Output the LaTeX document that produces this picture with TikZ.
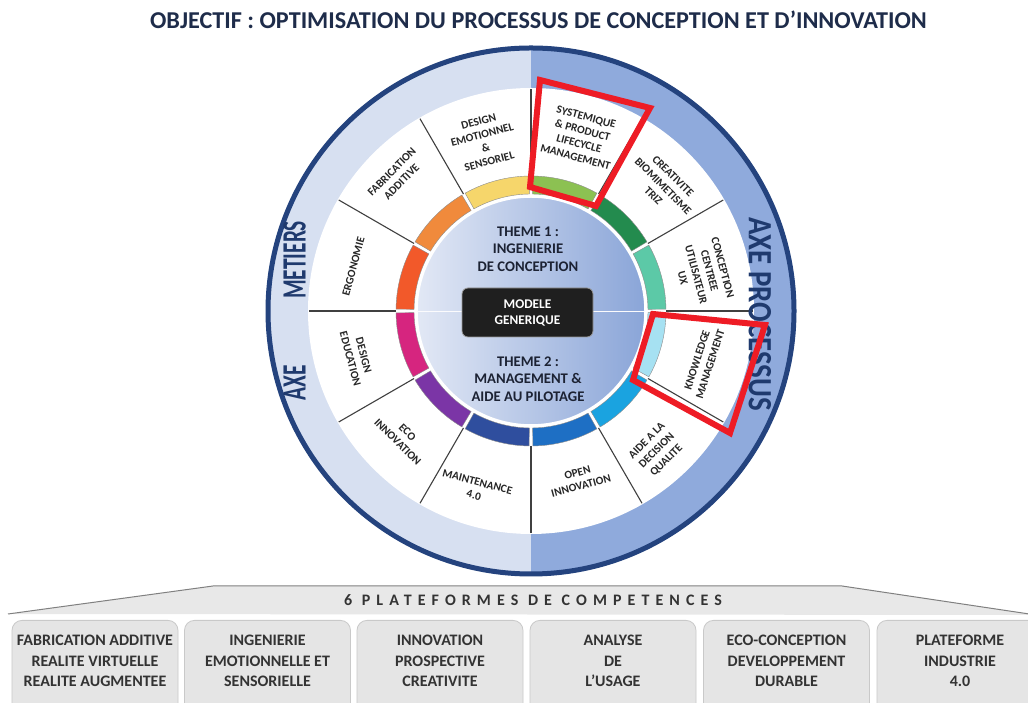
\documentclass[tikz,border=0pt]{standalone}
\usepackage{fontspec}
\setmainfont{Carlito}
\usepackage{graphicx}
\definecolor{bandL}{HTML}{D7E0F1}
\definecolor{bandR}{HTML}{8FAADC}
\definecolor{rim}{HTML}{24437E}
\definecolor{titleblue}{HTML}{1E2C4A}
\definecolor{axeblue}{HTML}{1F3A6E}
\definecolor{redbox}{HTML}{EE1C25}
\definecolor{boxgray}{HTML}{E5E5E5}
\definecolor{boxedge}{HTML}{C9C9C9}
\definecolor{boxtext}{HTML}{333333}
\definecolor{bannergray}{HTML}{E8E8E8}
\definecolor{diskL}{HTML}{E2E8F5}
\definecolor{diskR}{HTML}{8AA5D8}
\definecolor{ctext}{HTML}{1C2233}
\definecolor{c15}{HTML}{5CC9A7}
\definecolor{c45}{HTML}{238B4E}
\definecolor{c75}{HTML}{8CC152}
\definecolor{c105}{HTML}{F6D66B}
\definecolor{c135}{HTML}{F08A3C}
\definecolor{c165}{HTML}{F2592A}
\definecolor{c195}{HTML}{D6257F}
\definecolor{c225}{HTML}{7B35A6}
\definecolor{c255}{HTML}{2F4E9E}
\definecolor{c285}{HTML}{1E6FC4}
\definecolor{c315}{HTML}{1AA3E0}
\definecolor{c345}{HTML}{A6E1F2}
\begin{document}
\begin{tikzpicture}[x=1pt,y=1pt,
  seg/.style={font=\bfseries\fontsize{11.3}{13.8}\selectfont, align=center, text=black!85, inner sep=0pt},
  ctr/.style={font=\bfseries\fontsize{14.7}{17.5}\selectfont, align=center, text=ctext, inner sep=0pt},
  axe/.style={font=\bfseries\fontsize{34}{36}\selectfont, text=axeblue, inner sep=0pt},
  pbox/.style={draw=boxedge, fill=boxgray, line width=0.8pt, rounded corners=10pt, minimum width=166pt, minimum height=95pt, anchor=north},
  ptext/.style={font=\bfseries\fontsize{16}{20.3}\selectfont, align=center, text=boxtext, inner sep=0pt},
  hilite/.style={draw=redbox, line width=6pt, line join=miter}
]
\useasboundingbox (0,0) rectangle (1028,703);
\fill[white] (0,0) rectangle (1028,703);

% title
\node[font=\bfseries\fontsize{24.2}{28}\selectfont, text=titleblue, inner sep=0pt] (title) at (538.5,683) {OBJECTIF : OPTIMISATION DU PROCESSUS DE CONCEPTION ET D’INNOVATION};

% wheel
\begin{scope}[shift={(531,392)}]
  \fill[bandL] (90:265) arc[start angle=90,end angle=270,radius=265] -- cycle;
  \fill[bandR] (-90:265) arc[start angle=-90,end angle=90,radius=265] -- cycle;
  \draw[rim, line width=5pt] (0,0) circle (263);
  \fill[white] (0,0) circle (223);
  \foreach \a/\c in {15/c15,45/c45,75/c75,105/c105,135/c135,165/c165,195/c195,225/c225,255/c255,285/c285,315/c315,345/c345}{
    \filldraw[fill=\c, draw=black!45, line width=0.4pt]
      ({\a-14.2}:117) arc[start angle={\a-14.2}, end angle={\a+14.2}, radius=117]
      -- ({\a+14.2}:135) arc[start angle={\a+14.2}, end angle={\a-14.2}, radius=135] -- cycle;
  }
  \shadedraw[left color=diskL, right color=diskR, draw=white, line width=1.5pt] (0,0) circle (114);
  \draw[white!85!diskL, line width=0.8pt] (-114,0) -- (114,0);
  \foreach \a in {0,30,...,330}{
    \draw[black!75, line width=1.1pt] (\a:135) -- (\a:222);
  }
  \node[seg, rotate=-15] (sys) at (74:181) {SYSTEMIQUE\\\& PRODUCT\\LIFECYCLE\\MANAGEMENT};
  \node[seg, rotate=15] (demo) at (105.5:176) {DESIGN\\EMOTIONNEL\\\&\\SENSORIEL};
  \node[seg, rotate=45] (fab) at (135:190) {FABRICATION\\ADDITIVE};
  \node[seg, rotate=75] (ergo) at (166:183) {ERGONOMIE};
  \node[seg, rotate=-75] (dedu) at (194.8:180) {DESIGN\\EDUCATION};
  \node[seg, rotate=-45] (eco) at (224.5:180) {ECO\\INNOVATION};
  \node[seg, rotate=-15] (maint) at (252.7:186) {MAINTENANCE\\4.0};
  \node[seg, rotate=15] (open) at (286:175) {OPEN\\INNOVATION};
  \node[seg, rotate=45] (aide) at (312:188) {AIDE A LA\\DECISION\\QUALITE};
  \node[seg, rotate=72] (know) at (343.5:180) {KNOWLEDGE\\MANAGEMENT};
  \node[seg, rotate=-75] (ccu) at (12.5:176) {CONCEPTION\\CENTREE\\UTILISATEUR\\UX};
  \node[seg, rotate=-45] (crea) at (43.4:182) {CREATIVITE\\BIOMIMETISME\\TRIZ};
\end{scope}

% centre
\node[ctr] (t1) at (528,454) {THEME 1 :\\INGENIERIE\\DE CONCEPTION};
\node[rounded corners=6pt, fill=black!88, draw=black!40, line width=0.8pt, minimum width=131pt, minimum height=49pt, align=center, text=white, font=\bfseries\fontsize{13.3}{16}\selectfont, inner sep=0pt] (mg) at (527.5,390.5) {MODELE\\GENERIQUE};
\node[ctr] (t2) at (528,324) {THEME 2 :\\MANAGEMENT \&\\AIDE AU PILOTAGE};

% axes
\node[axe, rotate=90] (metiers) at (294.5,443) {\scalebox{0.63}[1]{METIERS}};
\node[axe, rotate=90] (axeL) at (294.5,320) {\scalebox{0.63}[1]{AXE}};
\node[axe, rotate=-90] (axeR) at (760,389) {\scalebox{0.85}[1]{AXE PROCESSUS}};

% highlights
\draw[hilite] (540,623) -- (650,595) -- (596,497) -- (530,516) -- cycle;
\draw[hilite] (653,389) -- (765,378) -- (730,270) -- (633,323) -- cycle;

% banner
\fill[bannergray] (8,89) -- (213,117) -- (842,117) -- (1036,88) -- cycle;
\draw[black!50, line width=1pt] (8,89) -- (213,117) -- (842,117) -- (1036,88);
\node[font=\bfseries\fontsize{16}{18}\selectfont\addfontfeature{LetterSpace=38}, text=black!80, inner sep=0pt] (plat) at (533,103) {6 PLATEFORMES DE COMPETENCES};

% platform boxes
\node[pbox] (p1) at (95,83) {};
\node[pbox] (p2) at (267.5,83) {};
\node[pbox] (p3) at (440,83) {};
\node[pbox] (p4) at (613,83) {};
\node[pbox] (p5) at (786.5,83) {};
\node[pbox] (p6) at (960,83) {};
\node[ptext] (p1t) at (95,42) {FABRICATION ADDITIVE\\REALITE VIRTUELLE\\REALITE AUGMENTEE};
\node[ptext] (p2t) at (267.5,42) {INGENIERIE\\EMOTIONNELLE ET\\SENSORIELLE};
\node[ptext] (p3t) at (440,42) {INNOVATION\\PROSPECTIVE\\CREATIVITE};
\node[ptext] (p4t) at (613,42) {ANALYSE\\DE\\L’USAGE};
\node[ptext] (p5t) at (786.5,42) {ECO-CONCEPTION\\DEVELOPPEMENT\\DURABLE};
\node[ptext] (p6t) at (960,42) {PLATEFORME\\INDUSTRIE\\4.0};
\end{tikzpicture}
\end{document}
